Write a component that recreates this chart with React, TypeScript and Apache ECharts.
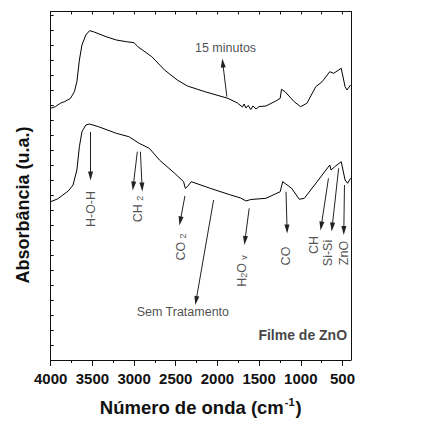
import React, { useEffect, useRef } from "react";
import * as echarts from "echarts";

// Spectrum after 15 minutes (upper curve)
const wn15 = [4000, 3940, 3885, 3830, 3762, 3716, 3686, 3656, 3625, 3579, 3534, 3488, 3336, 3213, 3092, 3000, 2955, 2787, 2634, 2482, 2360, 2150, 1875, 1760, 1700, 1680, 1658, 1630, 1600, 1575, 1537, 1500, 1418, 1300, 1247, 1232, 1189, 1079, 1003, 927, 820, 744, 652, 606, 515, 469, 446, 403];
const abs15 = [251.7, 253.5, 256.7, 258.5, 261.7, 268.3, 278.3, 300, 315, 325, 329.3, 328.3, 323.3, 320, 318.3, 317.3, 313.3, 303.3, 290, 280, 274, 268.3, 261.7, 257, 253, 256, 252, 254.5, 250.5, 254, 251, 253.5, 254, 259, 261.7, 270.7, 268.3, 258.3, 253.3, 256.7, 273.3, 278.3, 288.3, 286.7, 291.7, 273.3, 270, 275];

// Untreated film (lower curve)
const wnRaw = [4000, 3920, 3854, 3790, 3732, 3686, 3656, 3625, 3579, 3534, 3427, 3213, 3062, 2939, 2817, 2696, 2513, 2406, 2385, 2360, 2314, 2086, 1841, 1720, 1658, 1600, 1418, 1247, 1217, 1110, 1018, 958, 835, 652, 637, 592, 515, 469, 439, 403];
const absRaw = [158.3, 161, 165, 169, 175, 190, 213.3, 228.3, 235, 236, 233.3, 226.7, 223.3, 216.7, 211.7, 200, 186.7, 178.3, 171.7, 173.3, 178.3, 171.7, 165, 162, 159, 160.5, 161.7, 168.3, 178.3, 171.7, 160.7, 161.7, 175, 195, 190, 193.3, 198.3, 180, 176.7, 181.7];

// Axis ticks
const xLabelValues = [500, 1000, 1500, 2000, 2500, 3000, 3500, 4000];
const xMinorValues = [500, 750, 1000, 1250, 1500, 1750, 2000, 2250, 2500, 2750, 3000, 3250, 3500, 3750, 4000];
const yTickValues = [0, 15, 30, 45, 60, 75, 90, 105, 120, 135, 150, 165, 180, 195, 210, 225, 240, 255, 270, 285, 300, 315, 330, 345];

// Arrows: [fromWn, fromAbs] -> [toWn, toAbs]
const arrowFrom = [
  [3522, 228], [2961, 208.3], [2924, 208.3], [2390, 164], [2046, 160], [1619, 151.7],
  [1177, 168.3], [668, 181.7], [546, 191.7], [476, 175], [1887, 263.3],
];
const arrowTo = [
  [3522, 184], [3010, 174], [2904, 173], [2446, 139], [2256, 59.5], [1670, 119.5],
  [1165, 131], [755, 134], [624, 133], [484, 129.5], [1936, 297],
];

// Band labels (rotated)
const bandText = ["H-O-H", "CH {s|2}", "CO {s|2}", "H{s|2}O {s|v}", "CO", "CH", "Si-Si", "ZnO"];
const bandWn = [3522, 2948, 2436, 1704, 1177, 842, 674, 485];
const bandAbs = [151, 151, 113, 89, 104, 115, 107, 107];

// Horizontal labels
const noteText = ["15 minutos", "Sem Tratamento"];
const noteWn = [1903, 2415];
const noteAbs = [312.3, 47.7];

const FONT = "'Liberation Sans', Arial, Helvetica, sans-serif";

export default function App() {
  const ref = useRef<HTMLDivElement>(null);
  useEffect(() => {
    if (!ref.current) return;
    const chart = echarts.init(ref.current, undefined, { renderer: "svg" });
    const lineStyle = { color: "#000", width: 1 };
    const subRich = {
      s: { fontSize: 9, fontFamily: FONT, color: "#222", verticalAlign: "bottom", lineHeight: 10, padding: [5, 0, 0, 0] },
    };
    const labelItems: any[] = [];
    bandText.forEach((t, i) => {
      labelItems.push({
        value: [bandWn[i], bandAbs[i]],
        label: { show: true, formatter: t, rotate: 90, position: "inside", fontSize: 12.5, fontFamily: FONT, color: "#222", rich: subRich },
      });
    });
    noteText.forEach((t, i) => {
      labelItems.push({
        value: [noteWn[i], noteAbs[i]],
        label: { show: true, formatter: t, position: "inside", fontSize: 12.5, fontFamily: FONT, color: "#222" },
      });
    });
    labelItems.push({
      value: [445, 25],
      label: { show: true, formatter: "Filme de ZnO", position: "inside", align: "right", fontSize: 14, fontWeight: "bold", fontFamily: FONT, color: "#111" },
    });

    chart.setOption({
      animation: false,
      textStyle: { fontFamily: FONT },
      grid: { left: 50.7, right: 2, top: 11.5, bottom: 65, containLabel: false },
      xAxis: [
        {
          type: "value", position: "bottom", inverse: true, min: 400, max: 4000,
          axisLine: { show: true, lineStyle: { color: "#111", width: 1 } },
          axisTick: { show: true, inside: false, length: 6, lineStyle: { color: "#111" }, customValues: xLabelValues },
          axisLabel: {
            show: true, customValues: xLabelValues, formatter: (v: number) => String(v),
            fontSize: 15, fontWeight: "bold", color: "#111", margin: 11, fontFamily: FONT,
          },
          splitLine: { show: false },
          name: "Número de onda (cm{sup|-1})",
          nameLocation: "middle", nameGap: 36,
          nameTextStyle: {
            fontSize: 18.5, fontWeight: "bold", color: "#111", fontFamily: FONT, lineHeight: 22,
            rich: { sup: { fontSize: 11, fontWeight: "bold", color: "#111", fontFamily: FONT, verticalAlign: "top", lineHeight: 22, padding: [0, 1, 10, 1] } },
          },
        },
        {
          type: "value", position: "bottom", inverse: true, min: 400, max: 4000,
          axisLine: { show: false },
          axisTick: { show: true, inside: false, length: 3, lineStyle: { color: "#111" }, customValues: xMinorValues },
          axisLabel: { show: false },
          splitLine: { show: false },
        },
        {
          type: "value", position: "top", inverse: true, min: 400, max: 4000,
          axisLine: { show: true, lineStyle: { color: "#111", width: 1 } },
          axisTick: { show: true, inside: true, length: 3, lineStyle: { color: "#111" }, customValues: xMinorValues },
          axisLabel: { show: false },
          splitLine: { show: false },
        },
      ],
      yAxis: [
        {
          type: "value", position: "left", min: 0, max: 348.5,
          axisLine: { show: true, lineStyle: { color: "#111", width: 1 } },
          axisTick: { show: true, inside: true, length: 3, lineStyle: { color: "#111" }, customValues: yTickValues },
          axisLabel: { show: false },
          splitLine: { show: false },
        },
        {
          type: "value", position: "right", min: 0, max: 348.5,
          axisLine: { show: true, lineStyle: { color: "#111", width: 1 } },
          axisTick: { show: false },
          axisLabel: { show: false },
          splitLine: { show: false },
        },
      ],
      graphic: [
        {
          type: "text", x: 23, y: 205, rotation: Math.PI / 2,
          style: { text: "Absorbância (u.a.)", fontSize: 18, fontWeight: "bold", fontFamily: FONT, fill: "#111", align: "center", verticalAlign: "middle" },
        },
      ],
      series: [
        {
          type: "line", name: "15 minutos", xAxisIndex: 0, yAxisIndex: 0, symbol: "none",
          data: wn15.map((w, i) => [w, abs15[i]]), lineStyle, silent: true,
        },
        {
          type: "line", name: "Sem Tratamento", xAxisIndex: 0, yAxisIndex: 0, symbol: "none",
          data: wnRaw.map((w, i) => [w, absRaw[i]]), lineStyle, silent: true,
        },
        {
          type: "scatter", xAxisIndex: 0, yAxisIndex: 0, symbolSize: 0, silent: true,
          data: labelItems,
          markLine: {
            silent: true,
            symbol: ["none", "triangle"],
            symbolSize: 7,
            lineStyle: { color: "#222", width: 1, type: "solid" },
            itemStyle: { color: "#222" },
            label: { show: false },
            emphasis: { disabled: true },
            data: arrowFrom.map((f, i) => [
              { coord: f, symbol: "none" },
              { coord: arrowTo[i], symbol: "triangle", symbolSize: [5, 9] },
            ]),
          },
        },
      ],
    });
    return () => chart.dispose();
  }, []);
  return <div ref={ref} style={{ position: "fixed", left: 0, top: 0, width: 446, height: 425, background: "#fff" }} />;
}
